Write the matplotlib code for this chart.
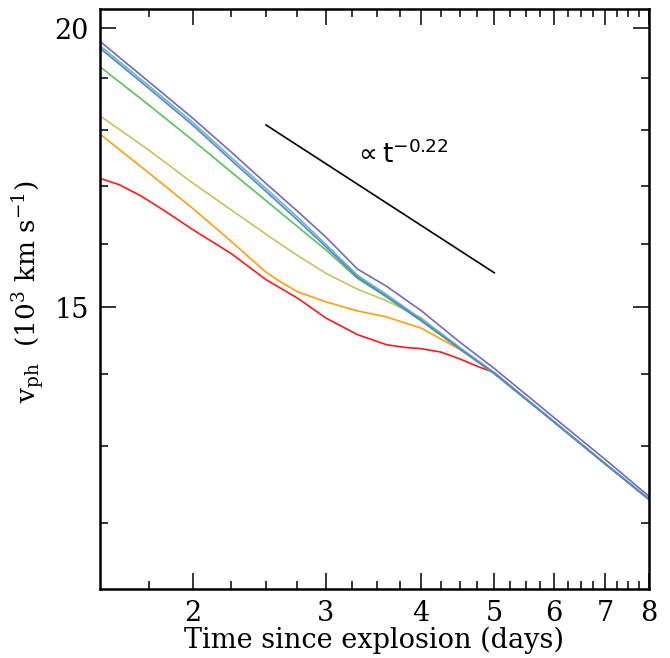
import matplotlib
matplotlib.use("Agg")
import matplotlib.pyplot as plt
from matplotlib.ticker import FixedLocator, FuncFormatter, NullFormatter

# ---- data (time in days, v_ph in 10^3 km/s) ----
t_grid = [1.51, 1.75, 2.0, 2.25, 2.5, 2.75, 3.0, 3.3, 3.6, 4.0, 4.5, 5.0, 6.0, 7.0, 8.0]

v_purple = [19.73, 18.93, 18.23, 17.60, 17.04, 16.56, 16.12, 15.60, 15.33, 14.95, 14.47, 14.08, 13.38, 12.82, 12.34]
v_blue   = [19.59, 18.80, 18.10, 17.45, 16.90, 16.41, 15.96, 15.47, 15.17, 14.80, 14.37, 14.01, 13.32, 12.76, 12.30]
v_cyan   = [19.64, 18.85, 18.15, 17.50, 16.95, 16.46, 16.00, 15.50, 15.20, 14.82, 14.39, 14.02, 13.33, 12.77, 12.31]
v_green  = [19.22, 18.48, 17.82, 17.24, 16.74, 16.30, 15.91, 15.45, 15.16, 14.79, 14.37, 14.00, 13.32, 12.76, 12.30]
v_yellow = [18.27, 17.64, 17.05, 16.58, 16.17, 15.82, 15.53, 15.28, 15.10, 14.84, 14.38, 14.01, 13.32, 12.76, 12.30]

t_orange = [1.51, 1.75, 2.0, 2.25, 2.4, 2.5, 2.6, 2.75, 3.0, 3.3, 3.6, 4.0, 4.5, 5.0, 6.0, 7.0, 8.0]
v_orange = [17.93, 17.23, 16.61, 16.05, 15.74, 15.55, 15.41, 15.24, 15.08, 14.94, 14.85, 14.68, 14.36, 14.01, 13.32, 12.76, 12.30]

t_red = [1.51, 1.6, 1.7, 1.75, 1.85, 2.0, 2.25, 2.5, 2.75, 3.0, 3.3, 3.6, 3.8, 4.0, 4.25, 4.5, 4.75, 5.0, 6.0, 7.0, 8.0]
v_red = [17.13, 17.02, 16.84, 16.74, 16.54, 16.25, 15.85, 15.43, 15.14, 14.83, 14.58, 14.43, 14.39, 14.37, 14.32, 14.22, 14.11, 14.02, 13.32, 12.76, 12.30]

# reference power law  v ∝ t^-0.22
t_ref = [2.5, 5.0]
v_ref = [18.10, 15.54]

x_major = [2, 3, 4, 5, 6, 7, 8]
x_minor = [1.75, 2.25, 2.5, 2.75, 3.25, 3.5, 3.75, 4.25, 4.5, 4.75, 5.25, 5.5, 5.75,
           6.25, 6.5, 6.75, 7.25, 7.5, 7.75]
y_major = [15, 20]
y_minor = [12, 13, 14, 16, 17, 18, 19]

colors = {
    "red": "#ff1a1a",
    "orange": "#ff9f10",
    "yellow": "#c8c25e",
    "green": "#58c558",
    "cyan": "#5cbcc4",
    "blue": "#5a82d4",
    "purple": "#7c68b2",
}

plt.rcParams["mathtext.fontset"] = "dejavuserif"

fig = plt.figure(figsize=(6.70, 6.58), dpi=100)
ax = fig.add_axes([100/670, 1-588.5/658, 549/670, 579.5/658])

lw = 1.2
ax.plot(t_red, v_red, color=colors["red"], lw=lw)
ax.plot(t_orange, v_orange, color=colors["orange"], lw=lw)
ax.plot(t_grid, v_yellow, color=colors["yellow"], lw=lw)
ax.plot(t_grid, v_green, color=colors["green"], lw=lw)
ax.plot(t_grid, v_cyan, color=colors["cyan"], lw=lw)
ax.plot(t_grid, v_blue, color=colors["blue"], lw=lw)
ax.plot(t_grid, v_purple, color=colors["purple"], lw=lw)
ax.plot(t_ref, v_ref, color="black", lw=1.2)

ax.set_xscale("log")
ax.set_yscale("log")
ax.set_xlim(1.51, 8.0)
ax.set_ylim(11.22, 20.40)

ax.xaxis.set_major_locator(FixedLocator(x_major))
ax.xaxis.set_minor_locator(FixedLocator(x_minor))
ax.yaxis.set_major_locator(FixedLocator(y_major))
ax.yaxis.set_minor_locator(FixedLocator(y_minor))
fmt = FuncFormatter(lambda v, p: "%d" % round(v))
ax.xaxis.set_major_formatter(fmt)
ax.yaxis.set_major_formatter(fmt)
ax.xaxis.set_minor_formatter(NullFormatter())
ax.yaxis.set_minor_formatter(NullFormatter())

serif = "DejaVu Serif"
ax.tick_params(which="both", direction="in", top=True, right=True, width=1.1)
ax.tick_params(which="major", length=11.5, pad=8, labelsize=19.5)
ax.tick_params(which="minor", length=5.8)
for lab in ax.get_xticklabels() + ax.get_yticklabels():
    lab.set_fontfamily(serif)
for s in ax.spines.values():
    s.set_linewidth(1.8)

ax.set_xlabel("Time since explosion (days)", fontsize=19.5, family=serif, labelpad=0)
ax.set_ylabel(r"v$_{\rm ph}$  (10$^{3}$ km s$^{-1}$)", fontsize=19, family=serif)
ax.yaxis.set_label_coords(-0.097, 0.513)

ax.text(0.46, 0.734, r"$\propto$t$^{-0.22}$", transform=ax.transAxes,
        fontsize=19, family="DejaVu Sans", ha="left", va="baseline",
        math_fontfamily="dejavusans")

fig.savefig("out.png", dpi=100)
